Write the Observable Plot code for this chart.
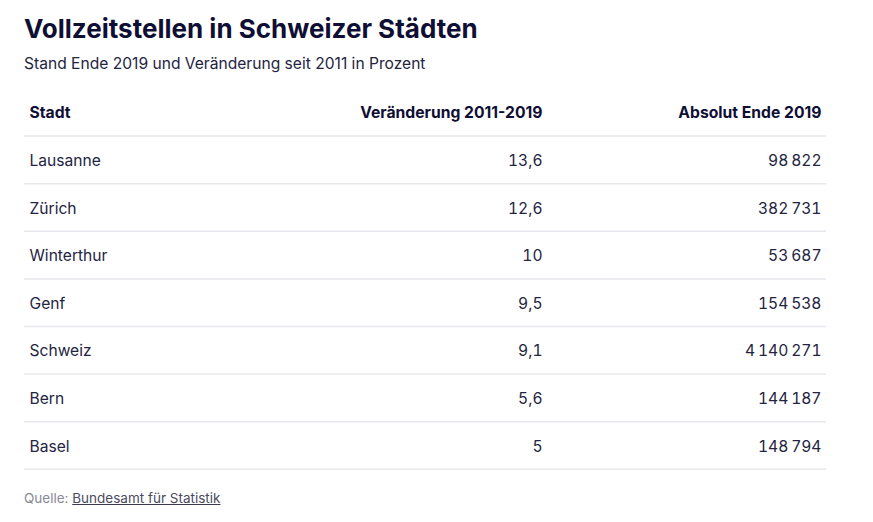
<!DOCTYPE html>
<html><head><meta charset="utf-8">
<script src="https://cdn.jsdelivr.net/npm/d3@7"></script>
<script src="https://cdn.jsdelivr.net/npm/@observablehq/plot@0.6"></script>
<style>
body{margin:0;background:#fff;font-family:"Inter","Noto Sans",sans-serif;}
#wrap{position:relative;width:873px;height:522px;overflow:hidden;}
#title{position:absolute;left:24px;top:14px;font-size:26px;line-height:30px;font-weight:700;color:#0f0f35;letter-spacing:0;white-space:nowrap;}
#subtitle{position:absolute;left:24px;top:54px;font-size:15.6px;line-height:20px;color:#24243f;white-space:nowrap;}
#chart{position:absolute;left:0;top:88px;}
#chart .num, #chart .num text{font-variant-numeric:tabular-nums;font-feature-settings:"tnum" 1;}
#caption{position:absolute;left:24px;top:489px;font-size:13.5px;line-height:18px;color:#8a8a96;white-space:nowrap;}
#caption a{color:#4a4a60;text-decoration:underline;text-decoration-color:#3a3a55;}
</style></head>
<body><div id="wrap">
<div id="title">Vollzeitstellen in Schweizer Städten</div>
<div id="subtitle">Stand Ende 2019 und Veränderung seit 2011 in Prozent</div>
<div id="chart"></div>
<div id="caption">Quelle: <a>Bundesamt für Statistik</a></div>
</div>
<script>
// data
const headers = ["Stadt", "Veränderung 2011-2019", "Absolut Ende 2019"];
const cities = ["Lausanne", "Zürich", "Winterthur", "Genf", "Schweiz", "Bern", "Basel"];
const changes = [13.6, 12.6, 10, 9.5, 9.1, 5.6, 5];
const absolute = [98822, 382731, 53687, 154538, 4140271, 144187, 148794];

// layout
const colX = [29, 542, 821];
const tableLeft = 24, tableRight = 826;
const rowCount = cities.length + 1;
const rowH = 47.6;

const loc = d3.formatLocale({decimal: ",", thousands: "\u202f", grouping: [3], currency: ["", ""]});
const fmtChange = d => String(d).replace(".", ",");
const fmtAbs = loc.format(",d");

const headerCells = headers.map((h, i) => ({row: 0, col: i, text: h}));
const bodyCells = [];
cities.forEach((c, i) => {
  bodyCells.push({row: i + 1, col: 0, text: c});
  bodyCells.push({row: i + 1, col: 1, text: fmtChange(changes[i])});
  bodyCells.push({row: i + 1, col: 2, text: fmtAbs(absolute[i])});
});

const font = "Inter, 'Noto Sans', sans-serif";
const height = Math.round(rowCount * rowH) + 2;
const plot = Plot.plot({
  width: 873,
  height,
  margin: 0,
  marginBottom: 2,
  x: {type: "linear", domain: [0, 873], range: [0, 873], axis: null},
  y: {type: "linear", domain: [0, rowCount], range: [0, rowCount * rowH], axis: null},
  style: {background: "transparent", fontFamily: font},
  marks: [
    Plot.ruleY(d3.range(1, rowCount + 1), {y: d => d, x1: tableLeft, x2: tableRight, stroke: "#e8e8ee", strokeWidth: 1.5}),
    Plot.text(headerCells.filter(d => d.col === 0), {x: d => colX[d.col], y: d => d.row + 0.5, text: "text", textAnchor: "start", fontWeight: 700, fontSize: 15.7, fill: "#0f0f35", fontFamily: font, dy: 1}),
    Plot.text(headerCells.filter(d => d.col > 0), {x: d => colX[d.col], y: d => d.row + 0.5, text: "text", textAnchor: "end", fontWeight: 700, fontSize: 15.7, fill: "#0f0f35", fontFamily: font, dy: 1}),
    Plot.text(bodyCells.filter(d => d.col === 0), {x: d => colX[d.col], y: d => d.row + 0.5, text: "text", textAnchor: "start", fontSize: 15.6, fill: "#24243f", fontFamily: font, dy: 1}),
    Plot.text(bodyCells.filter(d => d.col > 0), {x: d => colX[d.col], y: d => d.row + 0.5, text: "text", textAnchor: "end", fontSize: 15.6, fill: "#24243f", fontFamily: font, dy: 1, className: "num"})
  ]
});
document.getElementById("chart").appendChild(plot);
</script>
</body></html>
